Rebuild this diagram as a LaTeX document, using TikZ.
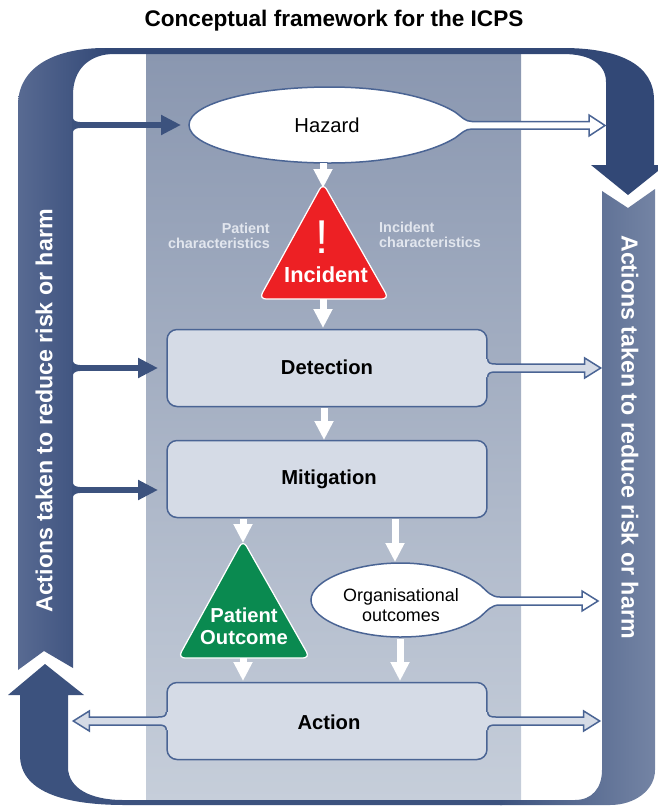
\documentclass[tikz,border=0pt]{standalone}
\usepackage{fontspec}
\setmainfont{Liberation Sans}
\usetikzlibrary{shapes, arrows.meta, positioning}
\definecolor{bandlight}{RGB}{88, 106, 146}
\definecolor{banddark}{RGB}{50, 72, 118}
\definecolor{bandright}{RGB}{116, 132, 164}
\definecolor{arrowblue}{RGB}{60, 82, 126}
\definecolor{edgeblue}{RGB}{74, 100, 148}
\definecolor{boxfill}{RGB}{213, 219, 230}
\definecolor{shadetop}{RGB}{138, 151, 176}
\definecolor{shadebot}{RGB}{198, 206, 218}
\definecolor{labelgrey}{RGB}{226, 230, 238}
\definecolor{incidentred}{RGB}{237, 32, 36}
\definecolor{outcomegreen}{RGB}{10, 138, 80}
\tikzset{
  stagebox/.style={draw=edgeblue, fill=boxfill, line width=0.03cm, rounded corners=0.2cm, minimum width=6.4cm, minimum height=1.54cm},
  oval/.style={draw=edgeblue, fill=white, line width=0.03cm},
  alert/.style={draw=white, line width=0.025cm, rounded corners=0.14cm},
  flow/.style={draw=white, line width=0.14cm, -{Triangle[length=0.38cm, width=0.36cm]}},
  action/.style={draw=arrowblue, line width=0.13cm, -{Triangle[length=0.4cm, width=0.38cm]}},
  sidelabel/.style={text=white, font=\fontsize{13.2}{15}\selectfont\bfseries},
  charlabel/.style={text=labelgrey, font=\fontsize{8.2}{8.9}\selectfont\bfseries},
  stagelabel/.style={font=\fontsize{11.5}{13}\selectfont\bfseries}
}
% outlined tail: anchor, length, scope options
\newcommand{\tailarrow}[3]{
  \begin{scope}[shift={(#1)}, #3]
    \fill[boxfill] (0,-9) .. controls (0,-5.4) and (2,-4) .. (8,-4) -- ({#2-16},-4) -- ({#2-16},-10) -- (#2,0) -- ({#2-16},10) -- ({#2-16},4) -- (8,4) .. controls (2,4) and (0,5.4) .. (0,9) -- (-2,9) -- (-2,-9) -- cycle;
    \draw[edgeblue, line width=0.03cm] (0,-9) .. controls (0,-5.4) and (2,-4) .. (8,-4) -- ({#2-16},-4) -- ({#2-16},-10) -- (#2,0) -- ({#2-16},10) -- ({#2-16},4) -- (8,4) .. controls (2,4) and (0,5.4) .. (0,9);
  \end{scope}
}

\begin{document}
\begin{tikzpicture}[x=0.02cm, y=-0.02cm]
  \useasboundingbox (0,0) rectangle (658,806);

  % Title
  \node[font=\fontsize{12.85}{15}\selectfont\bfseries] (title) at (334,21) {Conceptual framework for the ICPS};

  % Middle column
  \shade[top color=shadetop, bottom color=shadebot] (146,54) rectangle (521,800);

  % Left band
  \shade[left color=bandlight, right color=banddark] (18,670) -- (18,105) .. controls (18,70) and (50,48) .. (105,48) -- (110,48) -- (110,54) .. controls (88,56) and (73,70) .. (73,95) -- (73,668) -- (44,651) -- cycle;

  % Top band and arrow
  \fill[banddark] (105,48) -- (563,48) .. controls (620,48) and (654,65) .. (654,100) -- (654,165) -- (658,165) -- (658,171) -- (628,195) -- (591,165) -- (606,165) -- (606,82) .. controls (606,64) and (590,54) .. (563,54) -- (105,54) -- cycle;

  % Right band
  \shade[left color=arrowblue, right color=bandright] (602,191) -- (628,208) -- (655,189) -- (655,770) .. controls (655,790) and (635,805) .. (610,805) -- (500,805) -- (500,800) -- (575,800) .. controls (592,800) and (602,788) .. (602,770) -- cycle;

  % Bottom arrow
  \fill[arrowblue] (45,664) -- (84,695) -- (68,695) -- (68,767) .. controls (68,788) and (90,800) .. (123,800) -- (502,800) -- (502,805) -- (125,805) .. controls (60,805) and (20,790) .. (20,755) -- (20,695) -- (8,695) -- cycle;

  \node[sidelabel, rotate=90] (leftlabel) at (44,411) {Actions taken to reduce risk or harm};
  \node[sidelabel, rotate=-90] (rightlabel) at (630,437) {Actions taken to reduce risk or harm};

  % Stages
  \draw[oval] (189,125) .. controls (189,103) and (255,87) .. (330,87) .. controls (385,87) and (430,97) .. (455,112) .. controls (462,117) and (465,121.5) .. (472,121.5) -- (589,121.5) -- (589,115) -- (605,125.5) -- (589,136) -- (589,129) -- (472,129) .. controls (465,129) and (462,133) .. (455,138) .. controls (430,153) and (385,163) .. (330,163) .. controls (255,163) and (189,147) .. (189,125) -- cycle;
  \node[font=\fontsize{11.5}{13}\selectfont, minimum height=1.52cm] (hazard) at (327,125) {Hazard};
  \node[stagebox] (detection) at (327,368) {};
  \node[stagebox] (mitigation) at (327,479) {};
  \node[stagebox] (actionbox) at (327,721) {};
  \draw[oval] (311,600) .. controls (311,580) and (355,563) .. (400,563) .. controls (435,563) and (462,572) .. (480,585) .. controls (488,592) and (491,597) .. (500,597) -- (582,597) -- (582,591) -- (598,601) -- (582,611) -- (582,605) -- (500,605) .. controls (491,605) and (488,610) .. (480,617) .. controls (462,630) and (435,637) .. (400,637) .. controls (355,637) and (311,620) .. (311,600) -- cycle;
  \node[align=center, font=\fontsize{10.2}{11.2}\selectfont, minimum height=1.48cm] (organisational) at (401,605) {Organisational\\outcomes};

  % Incident
  \draw[alert, fill=incidentred] (323,183) -- (389,299) -- (259,299) -- cycle;
  \coordinate (incidenttop) at (323,188);
  \coordinate (incidentbot) at (323,299);
  % Patient outcome
  \draw[alert, fill=outcomegreen] (243,540) -- (310,658) -- (178,658) -- cycle;
  \coordinate (outcometop) at (243,543);
  \coordinate (outcomebot) at (243,658);

  % Tails
  \tailarrow{detection.east}{113}{}
  \tailarrow{actionbox.east}{112}{}
  \tailarrow{actionbox.west}{93}{xscale=-1}

  % Text
  \node[stagelabel] (detectiontext) at (327,367) {Detection};
  \node[stagelabel] (mitigationtext) at (329,479) {Mitigation};
  \node[stagelabel] (actiontext) at (329,722) {Action};
  \node[text=white, font=\fontsize{27}{29}\selectfont] (bang) at (322,237) {!};
  \node[text=white, font=\fontsize{12.4}{14}\selectfont\bfseries] (incidenttext) at (326,275) {Incident};
  \node[text=white, align=center, font=\fontsize{11.5}{12.6}\selectfont\bfseries] (outcometext) at (244,626) {Patient\\Outcome};
  \node[charlabel, align=right, anchor=east] (patientchar) at (276,236) {Patient\\characteristics};
  \node[charlabel, align=left, anchor=west] (incidentchar) at (373,235) {Incident\\characteristics};

  % White flow arrows
  \draw[flow] (hazard.south -| incidenttop) -- (incidenttop);
  \draw[flow] (incidentbot) -- (323,328);
  \draw[flow] (324,408) -- (324,440);
  \draw[flow] (243,519) -- (outcometop);
  \draw[flow] (395,519) -- (395,562);
  \draw[flow] (outcomebot) -- (243,681);
  \draw[flow] (400,639) -- (400,681);

  % Arrows out of the left band
  \coordinate (bandedge) at (72,0);
  \coordinate (hazardin) at (181,125);
  \coordinate (detectionin) at (158,368);
  \coordinate (mitigationin) at (158,490);
  \foreach \target in {hazardin, detectionin, mitigationin} {
    \draw[action] (bandedge |- \target) -- (\target);
    \fill[arrowblue, shift={(bandedge |- \target)}] (0,-9) .. controls (1,-5) and (3,-3) .. (8,-3) -- (8,3) .. controls (3,3) and (1,5) .. (0,9) -- cycle;
  }
\end{tikzpicture}
\end{document}
